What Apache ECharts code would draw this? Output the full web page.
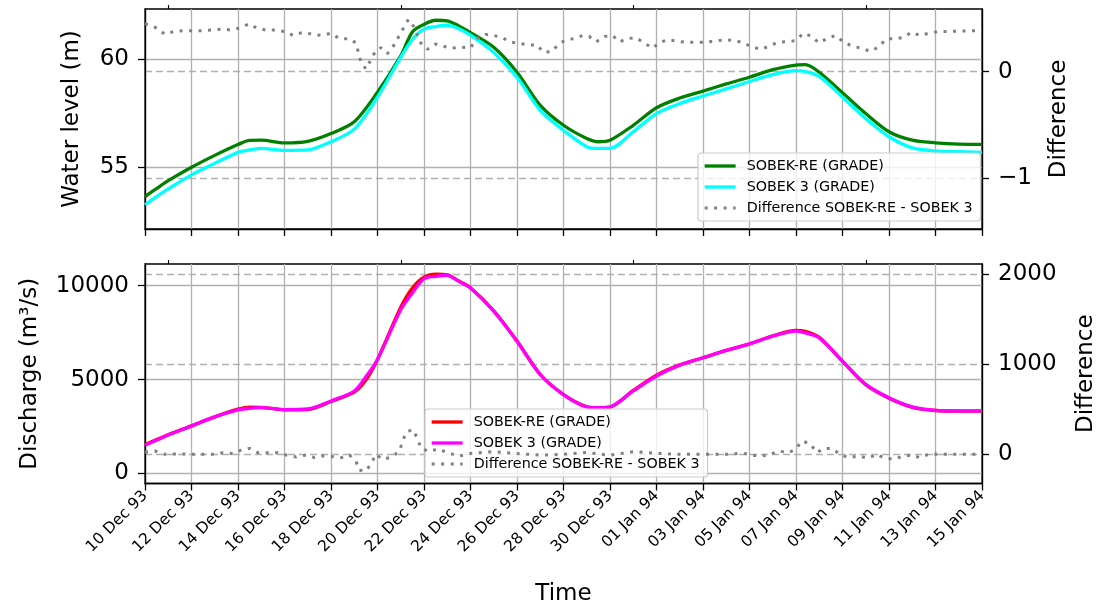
<!DOCTYPE html>
<html>
<head>
<meta charset="utf-8">
<script src="https://cdn.jsdelivr.net/npm/echarts@6/dist/echarts.min.js"></script>
<style>
  html, body { margin: 0; padding: 0; background: #ffffff; }
  #chart { width: 1111px; height: 610px; }
</style>
</head>
<body>
<div id="chart"></div>
<script>
// Time axis: days after 10 Dec 1993
const startDate = Date.UTC(1993, 11, 10);
const monthNames = ['Jan', 'Feb', 'Mar', 'Apr', 'May', 'Jun', 'Jul', 'Aug', 'Sep', 'Oct', 'Nov', 'Dec'];
const dayTicks = [0, 2, 4, 6, 8, 10, 12, 14, 16, 18, 20, 22, 24, 26, 28, 30, 32, 34, 36];
const minorDayTicks = [1, 11, 21, 31];

// Legend texts
const seriesLabels = {
  levelRE: 'SOBEK-RE (GRADE)',
  level3: 'SOBEK 3 (GRADE)',
  levelDiff: 'Difference SOBEK-RE - SOBEK 3',
  flowRE: 'SOBEK-RE (GRADE)',
  flow3: 'SOBEK 3 (GRADE)',
  flowDiff: 'Difference SOBEK-RE - SOBEK 3'
};

// Water level (m)
const levelDays = [0, 0.5, 1, 2, 3, 4, 4.5, 5, 6, 7, 8, 9, 10, 11, 11.5, 12, 12.5, 13, 13.5, 14, 15, 16, 17, 18, 19, 19.5, 20, 21, 22, 23, 24, 25, 26, 27, 28, 28.4, 29, 30, 31, 32, 33, 34, 35, 36];
const levelSobekRE = [53.65, 54.02, 54.38, 55.0, 55.55, 56.05, 56.24, 56.25, 56.13, 56.2, 56.56, 57.1, 58.47, 60.15, 61.25, 61.6, 61.79, 61.76, 61.53, 61.22, 60.54, 59.39, 57.86, 56.94, 56.33, 56.18, 56.25, 56.94, 57.75, 58.2, 58.52, 58.85, 59.16, 59.51, 59.72, 59.74, 59.39, 58.44, 57.48, 56.64, 56.25, 56.13, 56.07, 56.06];
const levelSobek3 = [53.27, 53.65, 54.0, 54.65, 55.18, 55.69, 55.8, 55.87, 55.78, 55.8, 56.18, 56.76, 58.24, 60.08, 60.9, 61.38, 61.5, 61.56, 61.4, 61.1, 60.3, 59.16, 57.63, 56.71, 55.95, 55.87, 55.87, 56.64, 57.48, 57.94, 58.29, 58.62, 58.96, 59.28, 59.46, 59.42, 59.2, 58.24, 57.25, 56.41, 55.9, 55.76, 55.72, 55.69];

// Water level difference (m)
const levelDiffDays = [0, 0.5, 0.86, 1.29, 1.71, 2.5, 3.36, 3.71, 4.07, 4.5, 4.79, 5.21, 5.64, 6.07, 6.36, 6.79, 7.21, 7.57, 8.0, 8.36, 8.79, 9.07, 9.29, 9.5, 9.71, 9.93, 10.14, 10.43, 10.71, 11.07, 11.33, 11.57, 11.86, 12.14, 12.5, 13.14, 13.57, 14.0, 14.29, 14.64, 15.0, 15.36, 15.71, 16.5, 16.86, 17.14, 17.5, 17.79, 18.11, 18.47, 18.83, 19.11, 19.4, 19.76, 20.11, 20.4, 20.76, 21.11, 21.47, 21.83, 22.11, 22.47, 23.26, 24.1, 24.97, 25.4, 25.76, 26.11, 26.54, 26.9, 27.26, 27.97, 28.33, 28.69, 28.97, 29.33, 29.69, 30.04, 30.4, 30.83, 31.19, 31.54, 31.9, 32.26, 32.61, 32.97, 33.33, 33.69, 34.11, 34.97, 35.9, 36];
const levelDiff = [0.45, 0.41, 0.35, 0.38, 0.384, 0.384, 0.40, 0.39, 0.41, 0.45, 0.41, 0.39, 0.39, 0.375, 0.34, 0.37, 0.35, 0.34, 0.36, 0.31, 0.31, 0.27, 0.09, 0.025, 0.11, 0.2, 0.225, 0.17, 0.25, 0.39, 0.49, 0.42, 0.27, 0.21, 0.26, 0.22, 0.23, 0.225, 0.31, 0.35, 0.34, 0.32, 0.28, 0.25, 0.25, 0.18, 0.19, 0.26, 0.30, 0.31, 0.34, 0.33, 0.28, 0.33, 0.34, 0.28, 0.31, 0.32, 0.27, 0.22, 0.27, 0.30, 0.275, 0.275, 0.30, 0.29, 0.27, 0.23, 0.21, 0.25, 0.275, 0.29, 0.36, 0.33, 0.27, 0.31, 0.34, 0.28, 0.24, 0.22, 0.19, 0.23, 0.31, 0.31, 0.32, 0.37, 0.34, 0.36, 0.375, 0.38, 0.385, 0.385];

// Discharge (m3/s)
const flowDays = [0, 0.5, 1, 2, 3, 4, 4.5, 5, 6, 7, 8, 9, 9.5, 10, 11, 11.5, 12, 12.5, 13, 13.5, 14, 15, 16, 17, 18, 19, 19.5, 20, 21, 22, 23, 24, 25, 26, 27, 28, 28.4, 29, 30, 31, 32, 33, 34, 35, 36];
const flowSobekRE = [1525, 1800, 2060, 2530, 3010, 3420, 3530, 3520, 3390, 3400, 3830, 4330, 4970, 6070, 8850, 9880, 10450, 10620, 10580, 10250, 9890, 8660, 7050, 5270, 4200, 3550, 3490, 3530, 4420, 5230, 5780, 6160, 6550, 6900, 7330, 7620, 7570, 7250, 5970, 4720, 4000, 3520, 3350, 3320, 3320];
const flowSobek3 = [1500, 1770, 2050, 2530, 3010, 3380, 3470, 3500, 3400, 3430, 3860, 4390, 5150, 6070, 8720, 9610, 10370, 10500, 10550, 10230, 9880, 8640, 7040, 5270, 4200, 3540, 3500, 3540, 4390, 5190, 5770, 6160, 6550, 6900, 7310, 7575, 7490, 7220, 5980, 4740, 4030, 3540, 3360, 3330, 3330];

// Discharge difference (m3/s)
const flowDiffDays = [0, 0.43, 0.86, 1.29, 1.71, 2.14, 2.57, 3.0, 3.36, 3.79, 4.14, 4.5, 4.86, 5.29, 5.71, 6.07, 6.5, 6.93, 7.29, 7.64, 8.07, 8.43, 8.79, 9.07, 9.21, 9.5, 9.71, 9.93, 10.21, 10.64, 10.93, 11.07, 11.21, 11.5, 11.71, 11.86, 12.2, 12.6, 13.0, 13.5, 14, 15, 16, 17, 18, 19, 20, 21, 22, 23, 24.11, 24.54, 24.97, 25.4, 25.76, 26.11, 26.54, 26.9, 27.26, 27.69, 27.97, 28.26, 28.61, 28.9, 29.19, 29.54, 29.9, 30.26, 30.69, 31.11, 31.47, 31.76, 32.19, 32.54, 32.97, 33.33, 33.69, 34.11, 34.97, 35.9, 36];
const flowDiff = [26, 37, 0, 5, 5, 0, 0, 0, 18, 7, 48, 66, 18, 18, 18, -7, -30, -7, -37, -18, -26, -37, -7, -74, -177, -185, -111, 0, -55, -30, 37, 129, 240, 277, 185, 74, 30, 60, 20, -20, 10, 30, 10, -10, 0, 20, -10, 30, 10, 0, 0, 0, 0, 7, 11, -11, -18, 0, 37, 18, 55, 148, 118, 18, 66, 66, 0, -37, -18, -44, 0, -37, -55, -26, -7, -37, 0, 0, 0, 0, 0];

// Axis tick values
const levelTicks = [55, 60];
const levelDiffTicks = [-1, 0];
const flowTicks = [0, 5000, 10000];
const flowDiffTicks = [0, 1000, 2000];

const FONT = 'DejaVu Sans';
const GRID_GRAY = '#b0b0b0';

function pairs(xs, ys) { return xs.map((x, i) => [x, ys[i]]); }
function pad2(n) { return (n < 10 ? '0' : '') + n; }
function dayLabel(d) {
  const t = new Date(startDate + d * 86400000);
  return pad2(t.getUTCDate()) + ' ' + monthNames[t.getUTCMonth()] + ' ' + String(t.getUTCFullYear()).slice(2);
}

function xAxisMain(gridIndex, withLabels) {
  return {
    type: 'value', gridIndex: gridIndex, min: 0, max: 36, interval: 2,
    axisLine: { show: true, onZero: false, lineStyle: { color: '#000', width: 1.3 } },
    axisTick: { show: true, length: 7, lineStyle: { color: '#000', width: 1.3 }, customValues: dayTicks },
    axisLabel: {
      show: withLabels, customValues: dayTicks, rotate: 45, margin: 10,
      fontFamily: FONT, fontSize: 15.5, color: '#000',
      formatter: v => dayLabel(v)
    },
    splitLine: { show: true, lineStyle: { color: GRID_GRAY, width: 1.3 } },
    name: withLabels ? 'Time' : '',
    nameLocation: 'middle', nameGap: 99,
    nameTextStyle: { fontFamily: FONT, fontSize: 23, color: '#000' }
  };
}
function xAxisMinor(gridIndex) {
  return {
    type: 'value', gridIndex: gridIndex, min: 0, max: 36,
    axisLine: { show: false, onZero: false },
    axisTick: { show: true, length: 4, lineStyle: { color: '#000', width: 1.1 }, customValues: minorDayTicks },
    axisLabel: { show: false },
    splitLine: { show: false }
  };
}
function yAxis(gridIndex, pos, min, max, ticks, name, nameGap, dashed) {
  return {
    type: 'value', gridIndex: gridIndex, position: pos, min: min, max: max,
    name: name, nameLocation: 'middle', nameGap: nameGap, nameRotate: 90,
    nameTextStyle: { fontFamily: FONT, fontSize: 23, color: '#000' },
    axisLine: { show: true, onZero: false, lineStyle: { color: '#000', width: 1.3 } },
    axisTick: { show: true, length: 7, lineStyle: { color: '#000', width: 1.3 }, customValues: ticks },
    axisLabel: {
      show: true, customValues: ticks, margin: 16,
      fontFamily: FONT, fontSize: 23, color: '#000',
      formatter: v => (v < 0 ? '\u2212' + Math.abs(v) : String(v))
    },
    splitLine: {
      show: true,
      lineStyle: dashed ? { color: GRID_GRAY, width: 1.3, type: [7, 4] } : { color: GRID_GRAY, width: 1.3 }
    }
  };
}
function lineSeries(id, xi, yi, data, color, width, dotted, z) {
  return {
    type: 'line', name: id, xAxisIndex: xi, yAxisIndex: yi,
    data: data, symbol: 'none', animation: false, z: z,
    smooth: dotted ? false : 0.3,
    lineStyle: dotted
      ? { color: color, width: width, type: [3, 6.5], cap: 'butt' }
      : { color: color, width: width, join: 'round' },
    itemStyle: { color: color },
    emphasis: { disabled: true }
  };
}
function legendBox(ids, left, top) {
  return {
    data: ids.map((id, i) => ({
      name: id,
      lineStyle: i === 2 ? { width: 3, type: [3, 6.5], cap: 'butt' } : { width: 3.3 }
    })),
    orient: 'vertical', left: left, top: top,
    itemWidth: 31, itemHeight: 14, itemGap: 7,
    padding: [6, 8, 6, 5],
    borderColor: '#cccccc', borderWidth: 1.2, borderRadius: 3,
    backgroundColor: 'rgba(255,255,255,0.8)',
    selectedMode: false,
    itemStyle: { opacity: 0 },
    textStyle: { fontFamily: FONT, fontSize: 14.3, color: '#000', padding: [0, 0, 0, 6] },
    formatter: name => seriesLabels[name]
  };
}

const chart = echarts.init(document.getElementById('chart'), null, { renderer: 'canvas' });
chart.setOption({
  animation: false,
  backgroundColor: '#ffffff',
  grid: [
    { left: 145, right: 129, top: 9, height: 220, show: true, borderColor: '#000', borderWidth: 1.3, containLabel: false },
    { left: 145, right: 129, top: 264, height: 219.5, show: true, borderColor: '#000', borderWidth: 1.3, containLabel: false }
  ],
  xAxis: [xAxisMain(0, false), xAxisMain(1, true), xAxisMinor(0), xAxisMinor(1)],
  yAxis: [
    yAxis(0, 'left', 52.15, 62.31, levelTicks, 'Water level (m)', 61, false),
    yAxis(0, 'right', -1.476, 0.588, levelDiffTicks, 'Difference', 66, true),
    yAxis(1, 'left', -540, 11157, flowTicks, 'Discharge (m\u00B3/s)', 103, false),
    yAxis(1, 'right', -324, 2114, flowDiffTicks, 'Difference', 93, true)
  ],
  legend: [
    legendBox(['levelRE', 'level3', 'levelDiff'], 698, 153),
    legendBox(['flowRE', 'flow3', 'flowDiff'], 425, 409)
  ],
  series: [
    lineSeries('levelRE', 0, 0, pairs(levelDays, levelSobekRE), '#008000', 3.3, false, 3),
    lineSeries('level3', 0, 0, pairs(levelDays, levelSobek3), '#00ffff', 3.3, false, 3),
    lineSeries('levelDiff', 0, 1, pairs(levelDiffDays, levelDiff), '#808080', 3, true, 4),
    lineSeries('flowRE', 1, 2, pairs(flowDays, flowSobekRE), '#ff0000', 3.3, false, 3),
    lineSeries('flow3', 1, 2, pairs(flowDays, flowSobek3), '#ff00ff', 3.3, false, 3),
    lineSeries('flowDiff', 1, 3, pairs(flowDiffDays, flowDiff), '#808080', 3, true, 4)
  ]
});
</script>
</body>
</html>
